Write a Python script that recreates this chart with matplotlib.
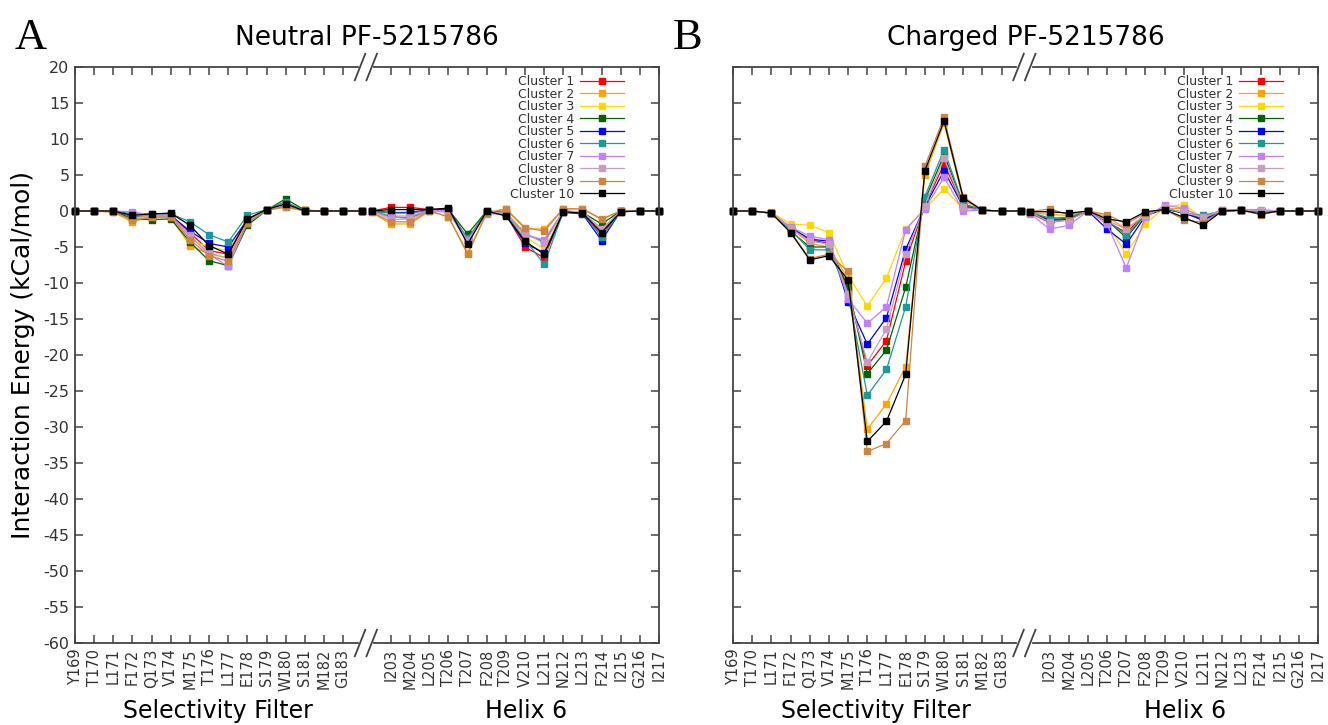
import numpy as np
import matplotlib
matplotlib.use("Agg")
import matplotlib.pyplot as plt

plt.rcParams['axes.unicode_minus'] = False
plt.rcParams['font.family'] = ['DejaVu Sans']

# residues (a blank entry is an unlabeled point beside the axis break)
sf_residues = ["Y169", "T170", "L171", "F172", "Q173", "V174", "M175", "T176",
               "L177", "E178", "S179", "W180", "S181", "M182", "G183", ""]
h6_residues = ["", "I203", "M204", "L205", "T206", "T207", "F208", "T209",
               "V210", "L211", "N212", "L213", "F214", "I215", "G216", "I217"]

clusters = ["Cluster %d" % i for i in range(1, 11)]
colours = ["#ff0000", "#ffa500", "#ffd700", "#006400", "#0000ff",
           "#1a9a9a", "#c080ff", "#c89cc0", "#cd853f", "#000000"]

# Neutral ligand, selectivity filter (rows = clusters 1..10)
neutral_sf = [
    [0, 0, 0.0, -0.8, -0.8, -0.6, -3.0, -5.5, -6.0, -1.3, 0.2, 0.8, 0.1, 0, 0, 0],
    [0, 0, -0.2, -1.5, -0.8, -0.9, -4.8, -6.0, -6.5, -1.5, 0.1, 0.5, 0.0, 0, 0, 0],
    [0, 0, 0.0, -0.7, -0.8, -0.6, -4.0, -5.0, -5.5, -1.2, 0.2, 0.7, 0.1, 0, 0, 0],
    [0, 0, 0.0, -1.1, -1.2, -1.1, -4.3, -6.9, -7.6, -2.0, 0.1, 1.7, 0.1, 0, 0, 0],
    [0, 0, 0.0, -0.7, -0.6, -0.6, -2.8, -4.5, -5.0, -1.2, 0.1, 0.8, 0.0, 0, 0, 0],
    [0, 0, 0.0, -0.4, -0.4, -0.4, -1.5, -3.3, -4.3, -0.6, 0.2, 1.3, 0.0, 0, 0, 0],
    [0, 0, 0.0, -0.1, -0.6, -0.6, -3.4, -6.0, -7.7, -1.6, 0.1, 0.9, 0.0, 0, 0, 0],
    [0, 0, 0.0, -0.6, -0.7, -0.7, -3.6, -5.8, -6.6, -1.4, 0.1, 0.9, 0.0, 0, 0, 0],
    [0, 0, -0.1, -1.3, -0.9, -0.8, -4.0, -6.2, -7.0, -1.7, 0.1, 0.6, 0.0, 0, 0, 0],
    [0, 0, 0.0, -0.6, -0.4, -0.3, -2.0, -4.8, -6.0, -1.1, 0.2, 1.0, 0.0, 0, 0, 0],
]

# Neutral ligand, helix 6
neutral_h6 = [
    [0.0, 0.5, 0.5, 0.2, 0.3, -4.0, -0.2, -0.5, -5.0, -6.5, 0.0, -0.3, -3.3, -0.1, 0, 0],
    [-0.2, -1.8, -1.8, 0.0, -0.8, -5.8, -0.3, 0.3, -2.5, -2.5, 0.3, 0.3, -1.2, 0.0, 0, 0],
    [0.0, -0.6, -0.6, 0.1, 0.0, -4.2, -0.3, -0.4, -3.6, -5.3, 0.0, -0.2, -2.5, 0.0, 0, 0],
    [0.0, -0.8, -1.0, 0.1, 0.2, -3.2, 0.0, -0.2, -3.2, -4.3, 0.0, -0.2, -1.8, 0.0, 0, 0],
    [0.0, -0.2, -0.2, 0.2, 0.2, -4.0, -0.2, -0.5, -4.5, -5.8, -0.2, -0.4, -4.1, 0.0, 0, 0],
    [0.0, -0.3, -0.3, 0.1, 0.1, -3.8, -0.1, -0.4, -4.0, -7.4, -0.1, -0.3, -3.6, -0.1, 0, 0],
    [0.0, -0.9, -0.8, 0.1, 0.0, -4.0, -0.4, -0.4, -3.3, -4.0, 0.0, -0.2, -2.8, 0.0, 0, 0],
    [0.0, -1.2, -1.1, 0.0, -0.2, -4.3, -0.2, -0.3, -3.0, -4.5, 0.0, -0.1, -2.5, 0.0, 0, 0],
    [-0.2, -1.5, -1.5, 0.0, -0.8, -6.0, -0.3, 0.3, -2.3, -2.8, 0.3, 0.3, -1.1, 0.0, 0, 0],
    [0.0, 0.2, 0.2, 0.2, 0.4, -4.6, 0.0, -0.7, -4.2, -6.0, -0.1, -0.3, -3.0, -0.1, 0, 0],
]

# Charged ligand, selectivity filter
charged_sf = [
    [0, 0, -0.3, -2.5, -4.0, -4.5, -11.0, -21.5, -18.0, -7.0, 0.8, 6.5, 0.8, 0.1, 0, 0],
    [0, 0, -0.3, -2.4, -4.5, -5.0, -9.5, -30.3, -26.8, -21.6, 5.0, 12.2, 1.5, 0.1, 0, 0],
    [0, 0, -0.2, -1.8, -2.0, -3.0, -9.0, -13.2, -9.3, -2.5, 0.3, 3.1, 0.3, 0.1, 0, 0],
    [0, 0, -0.3, -2.8, -5.0, -5.0, -10.5, -22.6, -19.3, -10.6, 1.5, 7.8, 1.0, 0.1, 0, 0],
    [0, 0, -0.3, -2.3, -3.9, -4.2, -12.6, -18.5, -14.8, -5.3, 0.6, 5.6, 0.6, 0.1, 0, 0],
    [0, 0, -0.3, -2.6, -5.4, -5.4, -11.5, -25.6, -22.0, -13.3, 2.0, 8.5, 1.0, 0.1, 0, 0],
    [0, 0, -0.3, -2.2, -3.5, -4.0, -12.2, -15.6, -13.3, -2.6, 0.3, 4.7, 0.0, 0.1, 0, 0],
    [0, 0, -0.3, -2.4, -4.2, -4.6, -11.5, -21.0, -16.4, -6.0, 0.7, 7.4, 0.5, 0.1, 0, 0],
    [0, 0, -0.3, -2.9, -6.6, -6.0, -8.4, -33.4, -32.3, -29.1, 6.2, 13.0, 2.0, 0.1, 0, 0],
    [0, 0, -0.3, -3.0, -6.8, -6.2, -9.6, -32.0, -29.2, -22.7, 5.6, 12.5, 1.8, 0.1, 0, 0],
]

# Charged ligand, helix 6
charged_h6 = [
    [-0.3, -1.6, -1.2, 0.0, -1.5, -3.0, -0.4, 0.3, -0.3, -1.2, 0.0, 0.1, -0.1, 0, 0, 0],
    [-0.2, -0.5, -0.6, 0.0, -0.8, -2.5, -0.6, 0.4, 0.3, -0.8, 0.1, 0.1, 0.0, 0, 0, 0],
    [-0.2, -1.0, -0.8, 0.0, -1.8, -6.0, -1.8, 0.5, 0.9, -1.0, 0.0, 0.1, 0.0, 0, 0, 0],
    [-0.2, -1.2, -1.0, 0.0, -1.3, -3.7, -0.5, 0.3, -0.3, -1.0, 0.0, 0.1, 0.0, 0, 0, 0],
    [-0.3, -1.3, -1.2, 0.0, -2.5, -4.6, -0.7, 0.3, -0.2, -1.3, 0.0, 0.1, 0.0, 0, 0, 0],
    [-0.2, -1.0, -0.9, 0.0, -1.4, -3.3, -0.5, 0.4, -0.3, -0.6, 0.0, 0.2, 0.0, 0, 0, 0],
    [-0.4, -2.5, -2.0, 0.0, -1.8, -7.9, -0.9, 0.8, 0.4, -1.0, 0.2, 0.2, 0.2, 0, 0, 0],
    [-0.2, -1.5, -1.3, 0.0, -1.3, -2.5, -0.5, 0.5, -0.2, -0.9, 0.0, 0.1, 0.0, 0, 0, 0],
    [-0.1, 0.3, -0.5, 0.0, -0.5, -1.8, -0.3, 0.2, -1.2, -1.6, 0.0, 0.1, -0.5, 0, 0, 0],
    [-0.1, -0.1, -0.3, 0.0, -1.1, -1.5, -0.1, 0.2, -0.9, -2.0, 0.0, 0.1, -0.4, 0, 0, 0],
]

yticks = np.arange(-60, 21, 5)
axis_col = "#444444"
text_col = "#333333"

# x layout: selectivity filter at 0..15, helix 6 at 15.5..30.5
sf_x = np.arange(len(sf_residues))
h6_x = 15.5 + np.arange(len(h6_residues))


def draw_break(ax, xa, xb):
    # top and bottom axis lines with a "//" break
    kw = dict(transform=ax.transAxes, color=axis_col, lw=1.3, clip_on=False)
    for y in (0, 1):
        ax.plot([0, xa], [y, y], **kw)
        ax.plot([xb, 1], [y, y], **kw)
        for xc in (xa + 0.004, xb - 0.004):
            ax.plot([xc - 0.009, xc + 0.009], [y - 0.023, y + 0.023], **kw)


def panel(ax, sf, h6, title, show_y):
    for i in range(len(clusters)):
        ax.plot(sf_x, sf[i], color=colours[i], lw=0.9, marker="s", ms=4,
                label=clusters[i], clip_on=False)
        ax.plot(h6_x, h6[i], color=colours[i], lw=0.9, marker="s", ms=4,
                clip_on=False)

    ax.set_xlim(0, 30.5)
    ax.set_ylim(-60, 20)
    ax.set_yticks(yticks)
    ticks = list(sf_x[:-1]) + list(h6_x[1:])
    labels = sf_residues[:-1] + h6_residues[1:]
    ax.set_xticks(ticks)
    ax.set_xticklabels(labels, rotation=90, fontsize=10.5, color=text_col)
    ax.tick_params(direction="in", length=6, width=1.1, color=axis_col,
                   top=True, right=True, pad=4)
    ax.tick_params(axis="y", labelsize=11.5, labelcolor=text_col)
    if not show_y:
        ax.set_yticklabels([])

    for s in ("left", "right"):
        ax.spines[s].set_color(axis_col)
        ax.spines[s].set_linewidth(1.3)
    for s in ("top", "bottom"):
        ax.spines[s].set_visible(False)
    draw_break(ax, 0.484, 0.512)

    ax.set_title(title, fontsize=19, pad=16)
    ax.text(0.245, -0.118, "Selectivity Filter", transform=ax.transAxes,
            ha="center", va="center", fontsize=17)
    ax.text(0.772, -0.118, "Helix 6", transform=ax.transAxes,
            ha="center", va="center", fontsize=17)

    leg = ax.legend(loc="upper right", bbox_to_anchor=(0.94, 0.986),
                    frameon=False, fontsize=9, markerfirst=False,
                    handlelength=3.5, handletextpad=0.5, labelspacing=-0.04,
                    borderpad=0, borderaxespad=0)
    for t in leg.get_texts():
        t.set_color(text_col)
        t.set_ha("right")


fig = plt.figure(figsize=(13.28, 7.25), dpi=100)
ax_a = fig.add_axes([0.0565, 0.1131, 0.4398, 0.7945])
ax_b = fig.add_axes([0.5520, 0.1131, 0.4405, 0.7945])

panel(ax_a, neutral_sf, neutral_h6, "Neutral PF-5215786", True)
panel(ax_b, charged_sf, charged_h6, "Charged PF-5215786", False)

fig.text(0.017, 0.51, "Interaction Energy (kCal/mol)", rotation=90,
         ha="center", va="center", fontsize=18)
fig.text(0.023, 0.948, "A", family="Liberation Serif", fontsize=32,
         ha="center", va="center")
fig.text(0.518, 0.948, "B", family="Liberation Serif", fontsize=32,
         ha="center", va="center")

fig.savefig("out.png", dpi=100)
